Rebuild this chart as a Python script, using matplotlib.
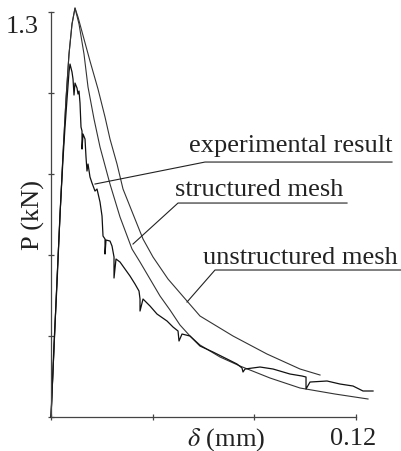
import numpy as np
import matplotlib
matplotlib.use("Agg")
import matplotlib.pyplot as plt

plt.rcParams['font.family'] = ['Liberation Serif', 'DejaVu Serif']
plt.rcParams['mathtext.fontset'] = 'stix'

# experimental load-displacement record (mm, kN)
exp_d = [0, 0.00118, 0.00236, 0.00354, 0.00472, 0.00551, 0.00630, 0.00708, 0.00748,
         0.00826, 0.00866, 0.00905, 0.00944, 0.01023, 0.01062, 0.01102, 0.01141, 0.01180,
         0.01220, 0.01220, 0.01259, 0.01338, 0.01377, 0.01416, 0.01456, 0.01534, 0.01613,
         0.01731, 0.01810, 0.01928, 0.02007, 0.02046, 0.02125, 0.02125, 0.02164, 0.02321,
         0.02400, 0.02479, 0.02479, 0.02557, 0.02715, 0.02911, 0.03108, 0.03305, 0.03462,
         0.03502, 0.03502, 0.03620, 0.03895, 0.04170, 0.04564, 0.04800, 0.04997, 0.05036,
         0.05154, 0.05469, 0.05862, 0.06374, 0.06925, 0.07318, 0.07515, 0.07554, 0.07633,
         0.08223, 0.08734, 0.09403, 0.09875, 0.10033, 0.10033, 0.10190, 0.10859, 0.11370,
         0.11882, 0.12275, 0.12669]
exp_p = [0, 0.2343, 0.4269, 0.6516, 0.8282, 0.9309, 1.0207, 1.1074, 1.1331,
         1.1074, 1.0849, 1.0336, 1.0721, 1.0561, 1.0368, 1.0464, 1.0079, 0.9309,
         0.9180, 0.8602, 0.9084, 0.8924, 0.8346, 0.7896, 0.8121, 0.7704, 0.7511,
         0.7254, 0.7319, 0.6901, 0.6452, 0.5810, 0.5714, 0.5232, 0.5682, 0.5649,
         0.5489, 0.5136, 0.4462, 0.5072, 0.4975, 0.4751, 0.4526, 0.4269, 0.4044,
         0.3788, 0.3402, 0.3788, 0.3563, 0.3306, 0.3082, 0.2889, 0.2761, 0.2440,
         0.2664, 0.2600, 0.2279, 0.2086, 0.1862, 0.1701, 0.1573, 0.1444, 0.1541,
         0.1605, 0.1541, 0.1380, 0.1316, 0.1284, 0.0899, 0.1123, 0.1156, 0.1059,
         0.0995, 0.0835, 0.0835]

# structured mesh simulation
str_d = [0, 0.00118, 0.00236, 0.00354, 0.00472, 0.00590, 0.00708, 0.00826, 0.00944,
         0.01102, 0.01298, 0.01456, 0.01692, 0.01928, 0.02321, 0.02715, 0.03187, 0.03502,
         0.03895, 0.04289, 0.04682, 0.05075, 0.05469, 0.05862, 0.06649, 0.07436, 0.08616,
         0.09797, 0.11174, 0.12472]
str_p = [0, 0.2183, 0.4430, 0.6452, 0.8442, 1.0207, 1.1652, 1.2615, 1.3129,
         1.2615, 1.1652, 1.0593, 0.9566, 0.8667, 0.7479, 0.6420, 0.5393, 0.4975,
         0.4430, 0.3884, 0.3435, 0.2953, 0.2600, 0.2311, 0.1926, 0.1637, 0.1252,
         0.0931, 0.0738, 0.0578]

# unstructured mesh simulation
uns_d = [0, 0.00118, 0.00236, 0.00354, 0.00472, 0.00590, 0.00708, 0.00826, 0.00944,
         0.01062, 0.01298, 0.01534, 0.01849, 0.02125, 0.02321, 0.02597, 0.02833, 0.03226,
         0.03620, 0.04013, 0.04603, 0.05351, 0.05862, 0.07161, 0.08498, 0.09797, 0.10584]
uns_p = [0, 0.2183, 0.4430, 0.6452, 0.8442, 1.0207, 1.1652, 1.2615, 1.3129,
         1.2840, 1.2133, 1.1427, 1.0528, 0.9630, 0.8924, 0.8121, 0.7319, 0.6516,
         0.5714, 0.5136, 0.4430, 0.3723, 0.3242, 0.2600, 0.2022, 0.1541, 0.1348]

yticks = [0, 0.26, 0.52, 0.78, 1.04, 1.3]
xticks = [0, 0.04, 0.08, 0.12]

fig = plt.figure(figsize=(4.01, 4.52), dpi=100)
ax = fig.add_axes([0.1272, 0.0752, 0.824, 0.9166])

ax.plot(str_d, str_p, color='#333333', lw=0.8, clip_on=False)
ax.plot(uns_d, uns_p, color='#333333', lw=0.8, clip_on=False)
ax.plot(exp_d, exp_p, color='#111111', lw=0.9, clip_on=False)

ax.set_xlim(0, 0.13)
ax.set_ylim(0, 1.33)

for s in ['top', 'right']:
    ax.spines[s].set_visible(False)
ax.spines['left'].set_bounds(0, 1.3)
ax.spines['bottom'].set_bounds(0, 0.12)
for s in ['left', 'bottom']:
    ax.spines[s].set_color('#444444')
    ax.spines[s].set_linewidth(0.9)

ax.set_yticks(yticks)
ax.set_yticklabels([])
ax.set_xticks(xticks)
ax.set_xticklabels([])
ax.tick_params(direction='inout', length=4.5, width=0.9, color='#444444')

ax.annotate('1.3', xy=(0, 1.3), xytext=(-9, -2), textcoords='offset points',
            ha='right', va='top', fontsize=19, color='#222222')
ax.annotate('0.12', xy=(0.12, 0), xytext=(-2, -7), textcoords='offset points',
            ha='center', va='top', fontsize=19, color='#222222')
ax.annotate(r'$\delta$ (mm)', xy=(0.0687, 0), xytext=(0, -6), textcoords='offset points',
            ha='center', va='top', fontsize=19, color='#222222')
ax.text(-0.0545, 0.49, 'P (kN)', transform=ax.transAxes, rotation=90,
        ha='center', va='center', fontsize=19, color='#222222')

# leader lines and labels
ax.plot([0.01731, 0.06059, 0.13416], [0.7479, 0.8185, 0.8185], color='#222222', lw=0.8, clip_on=False)
ax.text(0.13416, 0.8538, 'experimental result', ha='right', va='baseline', fontsize=19, color='#222222')
ax.plot([0.03226, 0.04997, 0.11646], [0.5553, 0.6869, 0.6869], color='#222222', lw=0.8, clip_on=False)
ax.text(0.11488, 0.7126, 'structured mesh', ha='right', va='baseline', fontsize=19, color='#222222')
ax.plot([0.05351, 0.06452, 0.1377], [0.3691, 0.4719, 0.4719], color='#222222', lw=0.8, clip_on=False)
ax.text(0.13652, 0.4943, 'unstructured mesh', ha='right', va='baseline', fontsize=19, color='#222222')

fig.savefig('out.png', dpi=100)
